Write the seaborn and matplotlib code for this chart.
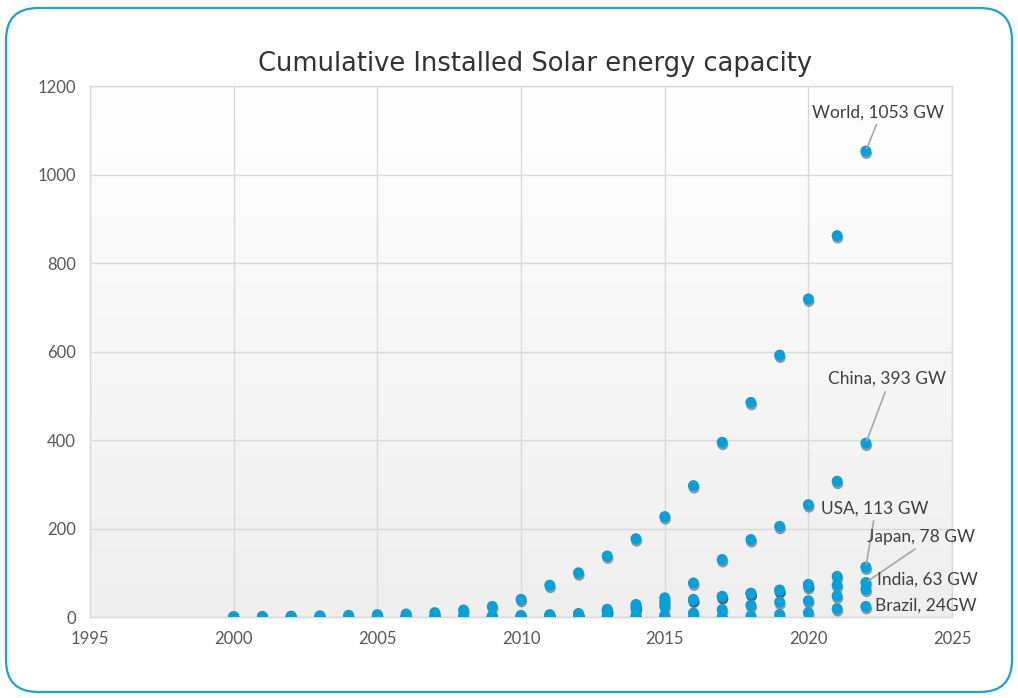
import numpy as np
import pandas as pd
import seaborn as sns
import matplotlib
matplotlib.use("Agg")
import matplotlib.pyplot as plt
import matplotlib.patheffects as pe
from matplotlib.patches import FancyBboxPatch

sns.set_theme(style="white")

years = list(range(2000, 2023))

# cumulative installed capacity, GW
world = [1.2, 1.5, 2.0, 2.8, 4.0, 5.5, 7.0, 10, 16, 24, 40, 72, 100, 138, 177,
         227, 297, 395, 485, 592, 719, 862, 1053]
china = [0.02, 0.03, 0.04, 0.05, 0.06, 0.07, 0.08, 0.1, 0.14, 0.3, 0.9, 3.1,
         6.7, 17.7, 28.4, 43.5, 77, 130, 175, 205, 254, 307, 393]
usa = [0.15, 0.2, 0.25, 0.3, 0.4, 0.5, 0.6, 0.8, 1.2, 1.7, 2.9, 5.2, 8.1, 12,
       18, 25, 38, 46, 53, 61, 74, 92, 113]
japan = [0.33, 0.45, 0.64, 0.86, 1.1, 1.4, 1.7, 1.9, 2.1, 2.6, 3.6, 4.9, 6.6,
         13.6, 23.3, 34, 40, 47, 54, 60, 69, 72, 78]
india = [0.01, 0.01, 0.01, 0.01, 0.02, 0.02, 0.02, 0.03, 0.03, 0.03, 0.07, 0.6,
         1.2, 2.3, 3.0, 4.5, 9, 17, 27, 34, 37, 48, 63]
brazil = [0.0, 0.0, 0.0, 0.0, 0.0, 0.0, 0.0, 0.0, 0.0, 0.0, 0.0, 0.0, 0.0, 0.0,
          0.02, 0.04, 0.1, 1.0, 2.5, 6, 10, 19, 24]

countries = ["World", "China", "USA", "Japan", "India", "Brazil"]
labels = ["World, 1053 GW", "China, 393 GW", "USA, 113 GW", "Japan, 78 GW",
          "India, 63 GW", "Brazil, 24GW"]
series = [world, china, usa, japan, india, brazil]

df = pd.concat([pd.DataFrame({"Year": years, "GW": s, "Country": c})
                for c, s in zip(countries, series)], ignore_index=True)

dot_color = "#00a2de"
text_color = "#404040"

fig = plt.figure(figsize=(10.18, 6.98), dpi=100)
fig.patch.set_facecolor("white")
ax = fig.add_axes([0.0884, 0.116, 0.8468, 0.7607])

# soft vertical gradient in the plot area (white on top, light grey at bottom)
grad = np.linspace(0.0, 1.0, 256).reshape(-1, 1)
ax.imshow(grad, extent=[1995, 2025, 0, 1200], aspect="auto", origin="upper",
          cmap=matplotlib.colors.LinearSegmentedColormap.from_list(
              "bg", ["#ffffff", "#efefef"]),
          zorder=0)

sns.scatterplot(data=df, x="Year", y="GW", hue="Country",
                palette=[dot_color] * len(countries), s=62, linewidth=0,
                legend=False, ax=ax, zorder=3)
for coll in ax.collections:
    coll.set_path_effects([pe.SimplePatchShadow(offset=(0.5, -1.8),
                                                shadow_rgbFace="black",
                                                alpha=0.38),
                           pe.Normal()])

ax.set_xlim(1995, 2025)
ax.set_ylim(0, 1200)
ax.set_xticks(range(1995, 2026, 5))
ax.set_yticks(range(0, 1201, 200))
ax.grid(True, color="#d9d9d9", linewidth=1)
ax.set_axisbelow(True)
for sp in ax.spines.values():
    sp.set_color("#d9d9d9")
    sp.set_linewidth(1)
ax.tick_params(length=0, labelsize=12, colors="#595959", pad=10)
for t in ax.get_xticklabels() + ax.get_yticklabels():
    t.set_family("Lato")
ax.set_xlabel("")
ax.set_ylabel("")

fig.text(0.5255, 0.909, "Cumulative Installed Solar energy capacity",
         fontsize=18.5, color="#333333", family="DejaVu Sans",
         ha="center", va="center")

# label positions (x, y in data units) and whether to draw a leader line
label_pos = [(2022.43, 1141, "center", True),
             (2022.74, 538, "center", True),
             (2022.30, 246, "center", True),
             (2023.92, 181, "center", True),
             (2022.39, 84, "left", False),
             (2022.32, 25, "left", False)]
for lab, s, (tx, ty, ha, line) in zip(labels, series, label_pos):
    arrow = dict(arrowstyle="-", color="#a6a6a6", lw=1.2, relpos=(0.5, 0),
                 shrinkA=1, shrinkB=2) if line else None
    ax.annotate(lab, xy=(years[-1], s[-1]), xytext=(tx, ty),
                ha=ha, va="center", fontsize=12.5, color=text_color,
                family="Lato", arrowprops=arrow, zorder=5,
                annotation_clip=False)

border = FancyBboxPatch((0.06, 0.06), 10.06, 6.84,
                        boxstyle="round,pad=0,rounding_size=0.32",
                        transform=fig.dpi_scale_trans, facecolor="none",
                        edgecolor="#1ba1dc", linewidth=1.6)
fig.patches.append(border)

fig.savefig("out.png", dpi=100)
